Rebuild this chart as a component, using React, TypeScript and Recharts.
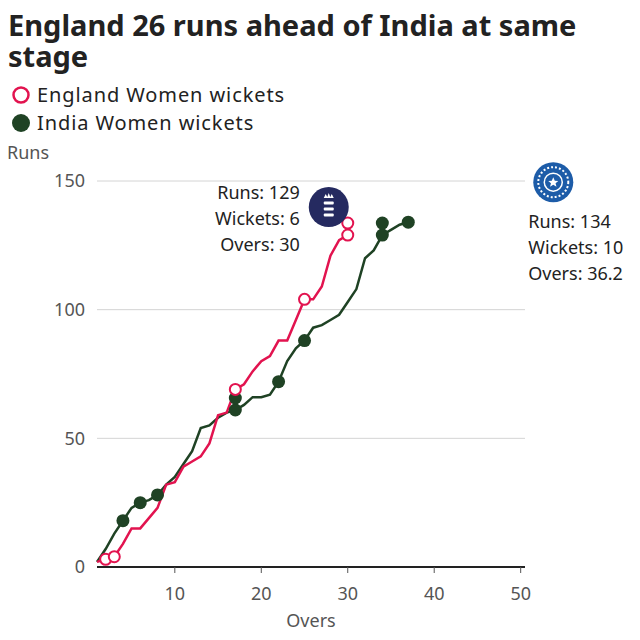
import {
  ComposedChart,
  Line,
  Scatter,
  XAxis,
  YAxis,
  CartesianGrid,
  ReferenceDot,
} from "recharts";

const engRuns = [
  2, 3, 4, 9, 15, 15, 19, 23, 32, 33, 39, 41, 43, 48, 59, 60, 69, 71, 76, 80,
  82, 88, 88, 96, 104, 104, 109, 121, 127, 129,
];
const indRuns = [
  2, 7, 13, 18, 23, 25, 26, 28, 32, 35, 40, 45, 54, 55, 58, 60, 61, 63, 66, 66,
  67, 72, 80, 85, 88, 93, 94, 96, 98, 103, 108, 120, 123, 129, 131, 133, 134,
];
// over in which each wicket fell
const engWicketOvers = [2, 3, 17, 25, 30, 30];
const indWicketOvers = [4, 6, 8, 17, 17, 22, 25, 34, 34, 37];

const xTicks = [10, 20, 30, 40, 50];
const yTicks = [0, 50, 100, 150];

const ENG = "#e2134f";
const IND = "#1f4224";

const data = indRuns.map((r, i) => ({
  over: i + 1,
  ind: r,
  eng: i < engRuns.length ? engRuns[i] : null,
}));

function wickets(overs: number[], runs: number[]) {
  const seen: Record<number, number> = {};
  return overs.map((o) => {
    const stack = seen[o] || 0;
    seen[o] = stack + 1;
    return { over: o, runs: runs[o - 1], stack };
  });
}

const engWickets = wickets(engWicketOvers, engRuns);
const indWickets = wickets(indWicketOvers, indRuns);

const STACK = 12;

const EngMarker = (p: any) => (
  <circle
    cx={p.cx}
    cy={p.cy - p.payload.stack * STACK}
    r={5.5}
    fill="#fff"
    stroke={ENG}
    strokeWidth={2}
  />
);

const IndMarker = (p: any) => (
  <circle cx={p.cx} cy={p.cy - p.payload.stack * STACK} r={6.5} fill={IND} />
);

const textStyle = { fontSize: 18, fill: "#222" };

const EngBadge = (p: any) => {
  const bx = p.cx - 19;
  const by = p.cy - 28;
  return (
    <g>
      <circle cx={bx} cy={by} r={20} fill="#252a60" />
      <path
        d={`M${bx - 5} ${by - 9} l2 -4 l1.5 3 l1.5 -4 l1.5 4 l1.5 -3 l2 4 z`}
        fill="#fff"
      />
      {[-4, 2, 8].map((d) => (
        <rect key={d} x={bx - 5} y={by + d - 1.5} width={10} height={3} rx={1} fill="#fff" />
      ))}
      <text x={p.cx - 48} y={p.cy - 36} textAnchor="end" {...textStyle}>
        Runs: 129
      </text>
      <text x={p.cx - 48} y={p.cy - 10} textAnchor="end" {...textStyle}>
        Wickets: 6
      </text>
      <text x={p.cx - 48} y={p.cy + 16} textAnchor="end" {...textStyle}>
        Overs: 30
      </text>
    </g>
  );
};

const IndBadge = (p: any) => {
  const bx = p.cx + 145;
  const by = p.cy - 40;
  return (
    <g>
      <circle cx={bx} cy={by} r={20} fill="#1d5ca8" />
      <circle cx={bx} cy={by} r={15} fill="none" stroke="#fff" strokeWidth={2} strokeDasharray="2 2" />
      <circle cx={bx} cy={by} r={9} fill="none" stroke="#fff" strokeWidth={1.5} />
      <path
        d={`M${bx} ${by - 5} l1.5 3.5 l3.5 0.3 l-2.7 2.3 l0.9 3.6 l-3.2 -2 l-3.2 2 l0.9 -3.6 l-2.7 -2.3 l3.5 -0.3 z`}
        fill="#fff"
      />
      <text x={p.cx + 120} y={p.cy + 6} {...textStyle}>
        Runs: 134
      </text>
      <text x={p.cx + 120} y={p.cy + 32} {...textStyle}>
        Wickets: 10
      </text>
      <text x={p.cx + 120} y={p.cy + 58} {...textStyle}>
        Overs: 36.2
      </text>
    </g>
  );
};

const legendText = {
  position: "absolute" as const,
  left: 37,
  fontSize: 20,
  letterSpacing: 0.9,
  lineHeight: "24px",
  height: 24,
  whiteSpace: "nowrap" as const,
};

export default function App() {
  return (
    <div
      style={{
        position: "fixed",
        left: 0,
        top: 0,
        width: 640,
        height: 640,
        background: "#fff",
        fontFamily: "'Noto Sans', sans-serif",
        color: "#222",
      }}
    >
      <div
        style={{
          position: "absolute",
          left: 8,
          top: 9,
          width: 590,
          fontSize: 29,
          lineHeight: "31px",
          fontWeight: 700,
          color: "#222",
        }}
      >
        England 26 runs ahead of India at same stage
      </div>
      <svg width={20} height={20} style={{ position: "absolute", left: 11, top: 85 }}>
        <circle cx={10} cy={10} r={7.5} fill="#fff" stroke={ENG} strokeWidth={2.5} />
      </svg>
      <div style={{ ...legendText, top: 83 }}>England Women wickets</div>
      <svg width={20} height={20} style={{ position: "absolute", left: 11, top: 113 }}>
        <circle cx={10} cy={10} r={9} fill={IND} />
      </svg>
      <div style={{ ...legendText, top: 111 }}>India Women wickets</div>
      <div style={{ position: "absolute", left: 7, top: 140, fontSize: 18, color: "#555" }}>
        Runs
      </div>
      <div
        style={{
          position: "absolute",
          left: 97,
          width: 428,
          top: 608,
          textAlign: "center",
          fontSize: 18,
          color: "#555",
        }}
      >
        Overs
      </div>
      <ComposedChart
        width={640}
        height={640}
        data={data}
        margin={{ top: 181, right: 115, left: 37, bottom: 43 }}
        style={{ position: "absolute", left: 0, top: 0 }}
      >
        <CartesianGrid vertical={false} stroke="#d4d4d4" strokeWidth={1} />
        <XAxis
          dataKey="over"
          type="number"
          domain={[1, 50.5]}
          ticks={xTicks}
          height={30}
          axisLine={{ stroke: "#222", strokeWidth: 2 }}
          tickLine={{ stroke: "#555" }}
          tickSize={6}
          tickMargin={14}
          tick={{ fill: "#555", fontSize: 18 }}
        />
        <YAxis
          type="number"
          domain={[0, 150]}
          ticks={yTicks}
          width={60}
          axisLine={false}
          tickLine={false}
          tickSize={0}
          tickMargin={12}
          tick={{ fill: "#555", fontSize: 18 }}
        />
        <Line
          dataKey="ind"
          stroke={IND}
          strokeWidth={2.5}
          dot={false}
          type="linear"
          isAnimationActive={false}
        />
        <Scatter
          data={indWickets}
          dataKey="runs"
          shape={IndMarker}
          isAnimationActive={false}
        />
        <Line
          dataKey="eng"
          stroke={ENG}
          strokeWidth={2.5}
          dot={false}
          type="linear"
          isAnimationActive={false}
        />
        <Scatter
          data={engWickets}
          dataKey="runs"
          shape={EngMarker}
          isAnimationActive={false}
        />
        <ReferenceDot x={30} y={129} shape={EngBadge} ifOverflow="visible" />
        <ReferenceDot x={37} y={134} shape={IndBadge} ifOverflow="visible" />
      </ComposedChart>
    </div>
  );
}
